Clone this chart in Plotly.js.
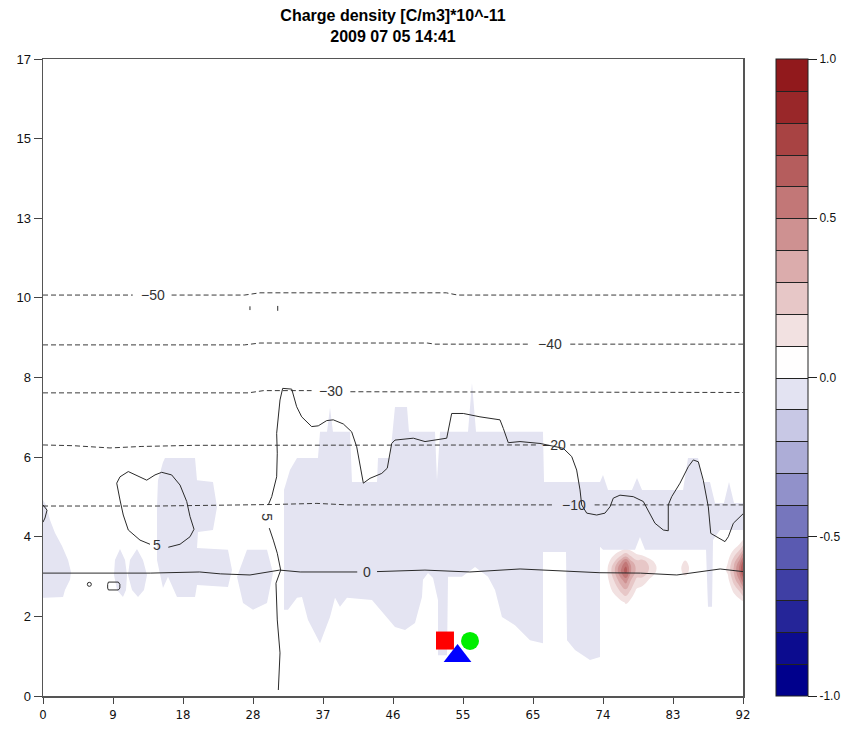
<!DOCTYPE html>
<html><head><meta charset="utf-8">
<script src="https://cdn.plot.ly/plotly-3.0.1.min.js"></script>
<style>html,body{margin:0;padding:0;background:#fff;}</style>
</head><body>
<div id="chart" style="width:850px;height:729px;"></div>
<script>
// ---- axes / ticks ----
const xTickVals = [0, 9.2, 18.4, 27.6, 36.8, 46, 55.2, 64.4, 73.6, 82.8, 92];
const xTickText = ['0','9','18','28','37','46','55','65','74','83','92'];
const yTickVals = [0, 2.125, 4.25, 6.375, 8.5, 10.625, 12.75, 14.875, 17];
const yTickText = ['0','2','4','6','8','10','13','15','17'];
const cbTickVals = [-1, -0.5, 0, 0.5, 1];
const cbTickText = ['-1.0','-0.5','0.0','0.5','1.0'];
// 20 colour bands from -1.0 to 1.0 (step 0.1)
const bandColors = [
  'rgb(0,0,140)','rgb(22,22,146)','rgb(46,46,156)','rgb(72,72,168)','rgb(98,98,180)',
  'rgb(124,124,192)','rgb(150,150,204)','rgb(176,176,217)','rgb(202,202,230)','rgb(228,228,242)',
  'rgb(255,255,255)','rgb(243,227,227)','rgb(232,202,202)','rgb(221,177,177)','rgb(209,151,151)',
  'rgb(197,126,126)','rgb(185,101,101)','rgb(173,77,77)','rgb(160,51,51)','rgb(145,25,28)'
];

// ---- positive charge (red) spots: charge density grid ----
const blobX = [74, 75, 76, 76.6, 77.3, 78, 78.8, 79.6, 80.6, 82, 83.6, 84.4, 85.2, 87, 89, 90, 90.8, 91.5, 92];
const blobY = [2.0, 2.5, 2.8, 3.1, 3.35, 3.55, 3.75, 3.95, 4.2];
const blobZ = [
  [0,0,0,0,0,0,0,0,0,0,0,0,0,0,0,0,0,0,0],
  [0,0.02,0.08,0.11,0.06,0,0,0,0,0,0,0,0,0,0,0,0.02,0.05,0.08],
  [0.02,0.12,0.22,0.27,0.18,0.08,0.05,0.02,0,0,0,0,0,0,0,0.02,0.12,0.2,0.3],
  [0.05,0.2,0.38,0.46,0.3,0.18,0.16,0.1,0.04,0,0,0.05,0,0,0.02,0.07,0.25,0.4,0.56],
  [0.06,0.26,0.52,0.66,0.4,0.28,0.3,0.2,0.1,0.02,0.06,0.16,0.06,0,0.03,0.12,0.32,0.5,0.72],
  [0.04,0.2,0.42,0.55,0.35,0.25,0.28,0.18,0.08,0,0.04,0.14,0.04,0,0.02,0.1,0.28,0.45,0.64],
  [0.02,0.1,0.2,0.26,0.18,0.12,0.1,0.05,0.02,0,0,0.02,0,0,0,0.05,0.18,0.3,0.46],
  [0,0.02,0.05,0.08,0.05,0.02,0,0,0,0,0,0,0,0,0,0.02,0.08,0.15,0.25],
  [0,0,0,0,0,0,0,0,0,0,0,0,0,0,0,0,0,0.02,0.08]
];

// ---- weak negative charge (-0.1..0) areas, outlines (null separates areas) ----
const negX = [
  0,0.39,0.92,1.58,2.50,3.29,3.68,3.55,2.89,2.63,0.26,0, null,
  10.12,10.78,11.04,10.91,10.51,9.73,9.33,9.46, null,
  12.35,13.14,13.67,13.27,12.49,11.70,11.17,11.43, null,
  16.03,19.98,20.24,22.34,22.87,22.34,20.37,20.24,24.31,24.84,24.31,20.24,19.98,17.61,16.43,15.77,14.98,14.98,15.11,15.77, null,
  26.81,29.44,30.23,29.44,27.60,26.29,25.50, null,
  31.67,31.67,32.46,33.38,36.14,36.41,37.33,37.72,38.11,40.35,40.61,43.90,44.03,45.61,46.26,47.84,48.10,51.52,51.78,52.18,
  55.86,56.38,56.91,65.71,65.85,73.21,73.60,74.26,77.41,78.07,78.73,84.12,84.77,86.09,86.74,87.66,88.32,89.50,90.16,90.82,
  92.00,92.00,88.98,88.06,87.93,87.40,87.14,79.12,78.46,77.81,73.60,73.21,73.21,71.89,69.92,68.87,68.74,65.71,65.71,64.01,
  62.03,60.32,59.41,58.49,56.78,55.07,53.23,53.10,51.91,51.91,51.26,50.60,49.94,49.81,48.89,47.58,46.26,43.24,39.95,39.03,
  38.38,37.72,36.41,34.83,34.04,33.38,32.20
];
const negY = [
  5.23,5.10,4.70,4.35,4.00,3.63,3.31,3.10,2.83,2.64,2.62,2.62, null,
  3.92,3.63,3.23,2.83,2.64,2.83,3.23,3.63, null,
  3.92,3.63,3.23,2.83,2.64,2.83,3.23,3.63, null,
  6.35,6.35,5.76,5.71,5.04,4.43,4.38,3.95,3.90,3.36,2.91,2.96,2.64,2.64,3.18,2.88,3.63,5.04,5.76,6.24, null,
  3.90,3.90,3.28,2.48,2.30,2.48,3.18, null,
  2.30,5.50,6.03,6.35,6.35,7.05,7.05,7.69,7.05,7.05,5.71,5.71,6.35,6.35,7.71,7.71,7.05,7.05,5.76,7.05,
  7.05,8.35,7.05,7.05,5.71,5.71,5.90,5.50,5.50,5.82,5.50,5.50,6.35,6.35,5.71,5.71,5.15,5.15,5.71,5.15,
  5.15,4.43,4.43,4.16,2.38,2.38,3.90,3.90,4.24,3.90,3.90,3.98,1.04,0.96,1.23,1.49,3.84,3.84,1.41,1.49,
  1.89,2.11,2.83,3.18,3.44,3.18,3.18,1.09,1.09,2.56,3.15,3.28,3.10,2.64,1.95,1.76,1.84,2.56,2.62,2.38,
  2.62,2.11,1.41,2.03,2.64,2.62,2.30
];

// ---- temperature isolines (dashed = negative) ----
const m50X = [0, 11.8, null, 16.9, 26.5, 28.5, 53.0, 54.5, 92];
const m50Y = [10.70, 10.70, null, 10.70, 10.70, 10.76, 10.76, 10.70, 10.70];
const m40X = [0, 26.5, 28.5, 50.5, 51.5, 64.0, null, 69.3, 92];
const m40Y = [9.37, 9.37, 9.42, 9.42, 9.39, 9.39, null, 9.39, 9.39];
const m30X = [0, 27, 29, 35.3, null, 40.4, 92];
const m30Y = [8.09, 8.09, 8.15, 8.15, null, 8.12, 8.10];
const m20X = [0, 4, 8.8, 13, 20, 40, 65.0, null, 69.3, 92];
const m20Y = [6.70, 6.68, 6.62, 6.66, 6.69, 6.70, 6.70, null, 6.70, 6.70];
const m10X = [0, 15, 30, 36, 40, 67.0, null, 72.5, 92];
const m10Y = [5.07, 5.07, 5.11, 5.14, 5.10, 5.10, null, 5.10, 5.10];
// 0 isoline (solid)
const zeroX = [0, 3.5, 7.5, 14.1, 20.6, 23.3, 27.2, 29.8, 31.1, 33.8, 41.3, null, 43.9, 50.2, 56.1, 62.7, 73.2, 78.5, 83.3, 89.0, 92];
const zeroY = [3.28, 3.28, 3.26, 3.28, 3.31, 3.26, 3.23, 3.31, 3.36, 3.31, 3.31, null, 3.32, 3.36, 3.31, 3.39, 3.29, 3.28, 3.23, 3.39, 3.32];
// "5" isolines (solid)
const fiveX = [30.93,31.15,30.79,30.62,31.24,30.79,30.27,29.74,null,29.61,30.06,30.71,30.79,30.71,31.15,31.50,32.69,33.34,34.00,
  35.31,36.18,37.29,38.15,39.47,40.57,41.23,41.66,42.10,42.98,44.52,45.25,45.83,46.26,48.67,50.21,53.06,53.71,55.24,57.43,
  59.18,60.06,60.50,61.15,62.69,65.32,68.38,69.49,70.14,70.58,70.80,71.46,72.77,73.86,74.52,74.95,75.83,77.58,78.90,79.55,
  80.43,81.53,82.18,82.18,82.63,83.72,84.81,85.47,86.13,86.78,87.44,87.76,88.54,89.63,90.07,90.73,92.0];
const fiveY = [0.16,1.15,2.03,3.01,3.36,3.81,4.16,4.48,null,5.10,5.32,5.85,6.48,7.01,7.90,8.21,8.19,7.72,7.45,
  7.19,7.21,7.35,7.37,7.26,7.05,6.65,6.12,5.68,5.81,5.94,6.08,6.74,6.83,6.88,6.79,6.88,7.54,7.54,7.45,
  7.41,7.37,7.14,6.76,6.79,6.74,6.61,6.39,6.03,5.50,5.10,4.88,4.83,4.88,5.05,5.28,5.36,5.32,5.19,4.96,
  4.61,4.43,4.41,5.10,5.32,5.68,6.12,6.30,6.25,5.76,5.05,4.34,4.25,4.12,4.25,4.61,4.86];
const loopX = [11.21,12.75,13.63,14.72,15.60,16.91,18.01,18.89,19.32,19.85,19.32,18.01,16.47,null,14.06,12.75,11.21,10.55,10.12,9.69,10.12,11.21,
  null, 8.6,9.9,10.1,10.1,9.9,8.6,8.5,8.5,8.6,
  null, 0,0.53,0.26,0,
  null, 27.2,27.2, null, 30.85,30.85];
const loopY = [5.99,5.85,5.76,5.90,5.97,5.90,5.63,5.19,4.79,4.45,4.25,4.05,3.97,null,4.05,4.16,4.43,4.83,5.23,5.68,5.85,5.99,
  null, 3.04,3.04,2.98,2.88,2.83,2.83,2.88,2.98,3.04,
  null, 5.10,4.96,4.75,4.64,
  null, 10.30,10.40, null, 10.28,10.41];
const dotX = [6.09];
const dotY = [2.98];

// ---- isoline labels ----
const labText  = ['\u221250','\u221240','\u221230','\u221220','\u221210','0','5','5'];
const labX     = [14.4, 66.6, 37.9, 67.2, 69.8, 42.6, 15.0, 29.4];
const labY     = [10.70, 9.39, 8.13, 6.70, 5.10, 3.31, 4.03, 4.78];
const labAngle = [0, 0, 0, 0, 0, 0, 0, 90];

// ---- site markers ----
const sqX = [52.83], sqY = [1.48];
const ciX = [56.12], ciY = [1.47];
const trX = [54.48], trY = [1.07];

// ---------------------------------------------------------------
function makeScale(colors) {
  const s = [[0, colors[0]]];
  colors.forEach((c, i) => s.push([(i + 0.5) / colors.length, c]));
  s.push([1, colors[colors.length - 1]]);
  return s;
}
const barScale = makeScale(bandColors);
// in the plot, bands up to 0.1 let the paper / negative areas show through
const plotScale = makeScale(bandColors.map((c, i) => i <= 10 ? 'rgba(255,255,255,0)' : c));

const contourCommon = {
  type: 'contour', x: blobX, y: blobY, z: blobZ,
  zmin: -1, zmax: 1, zauto: false,
  autocontour: false,
  hoverinfo: 'skip'
};

const dashLine = {color: '#3a3a3a', width: 1, dash: '5px,3px'};
const solidLine = {color: '#2a2a2a', width: 1};
function ln(x, y, line) {
  return {type: 'scatter', mode: 'lines', x: x, y: y, line: line, connectgaps: false, hoverinfo: 'skip', showlegend: false};
}

const traces = [
  Object.assign({}, contourCommon, {
    colorscale: plotScale,
    contours: {start: -0.9, end: 0.9, size: 0.1, coloring: 'fill', showlines: false},
    line: {width: 0, smoothing: 1.3},
    showscale: false
  }),
  Object.assign({}, contourCommon, {
    colorscale: barScale,
    contours: {start: -0.9, end: 0.9, size: 0.1, coloring: 'fill', showlines: true},
    line: {width: 1, color: '#222'},
    opacity: 0,
    showscale: true,
    colorbar: {
      x: 1.047, xanchor: 'left', xpad: 0, y: 0.5, yanchor: 'middle', ypad: 0,
      len: 1, lenmode: 'fraction', thickness: 32, thicknessmode: 'pixels',
      outlinewidth: 1, outlinecolor: '#222',
      ticks: 'outside', ticklen: 9, tickwidth: 1, tickcolor: '#222',
      tickmode: 'array', tickvals: cbTickVals, ticktext: cbTickText,
      tickfont: {family: 'Liberation Sans, Arial, sans-serif', size: 12, color: '#111'}
    }
  }),
  {type: 'scatter', mode: 'lines', x: negX, y: negY, fill: 'toself', fillcolor: bandColors[9],
   line: {width: 0, color: bandColors[9]}, connectgaps: false, hoverinfo: 'skip', showlegend: false},
  ln(m50X, m50Y, dashLine), ln(m40X, m40Y, dashLine), ln(m30X, m30Y, dashLine),
  ln(m20X, m20Y, dashLine), ln(m10X, m10Y, dashLine),
  ln(zeroX, zeroY, solidLine), ln(fiveX, fiveY, solidLine), ln(loopX, loopY, solidLine),
  {type: 'scatter', mode: 'markers', x: dotX, y: dotY, hoverinfo: 'skip', showlegend: false,
   marker: {symbol: 'circle-open', size: 4, color: '#2a2a2a', line: {width: 1, color: '#2a2a2a'}}},
  {type: 'scatter', mode: 'markers', x: sqX, y: sqY, hoverinfo: 'skip', showlegend: false,
   marker: {symbol: 'square', size: 18, color: '#ff0000', line: {width: 0}}},
  {type: 'scatter', mode: 'markers', x: ciX, y: ciY, hoverinfo: 'skip', showlegend: false,
   marker: {symbol: 'circle', size: 18, color: '#00ee00', line: {width: 0}}},
  {type: 'scatter', mode: 'markers', x: trX, y: trY, hoverinfo: 'skip', showlegend: false,
   marker: {symbol: 'triangle-up', size: 24, color: '#0000ff', line: {width: 0}}}
];

const annotations = labText.map((t, i) => ({
  x: labX[i], y: labY[i], xref: 'x', yref: 'y', text: t, showarrow: false,
  textangle: labAngle[i], xanchor: 'center', yanchor: 'middle',
  font: {family: 'Liberation Sans, Arial, sans-serif', size: 14, color: '#333'}
}));

const layout = {
  width: 850, height: 729,
  margin: {l: 43, r: 107, t: 59, b: 33, pad: 0, autoexpand: false},
  paper_bgcolor: '#fff', plot_bgcolor: '#fff',
  showlegend: false,
  font: {family: 'Liberation Sans, Arial, sans-serif', color: '#111'},
  title: {
    text: '<b>Charge density [C/m3]*10^-11</b><br><b>2009 07 05 14:41</b>',
    font: {family: 'Liberation Sans, Arial, sans-serif', size: 16, color: '#000'},
    x: 0.4624, xanchor: 'center', xref: 'container',
    y: 0.971, yanchor: 'top', yref: 'container'
  },
  xaxis: {
    range: [0, 92], tickmode: 'array', tickvals: xTickVals, ticktext: xTickText,
    ticks: 'outside', ticklen: 6, tickwidth: 1, tickcolor: '#444',
    showline: true, mirror: true, linecolor: '#555', linewidth: 1.5,
    showgrid: false, zeroline: false, fixedrange: true,
    tickfont: {family: 'Liberation Sans Narrow, DejaVu Sans Condensed, Liberation Sans, sans-serif', size: 13, color: '#111'}
  },
  yaxis: {
    range: [0, 17], tickmode: 'array', tickvals: yTickVals, ticktext: yTickText,
    ticks: 'outside', ticklen: 8, tickwidth: 1, tickcolor: '#444',
    showline: true, mirror: true, linecolor: '#555', linewidth: 1.5,
    showgrid: false, zeroline: false, fixedrange: true,
    tickfont: {family: 'Liberation Sans, Arial, sans-serif', size: 13, color: '#111'}
  },
  annotations: annotations
};

Plotly.newPlot('chart', traces, layout, {staticPlot: true, displayModeBar: false});
</script>
</body></html>
